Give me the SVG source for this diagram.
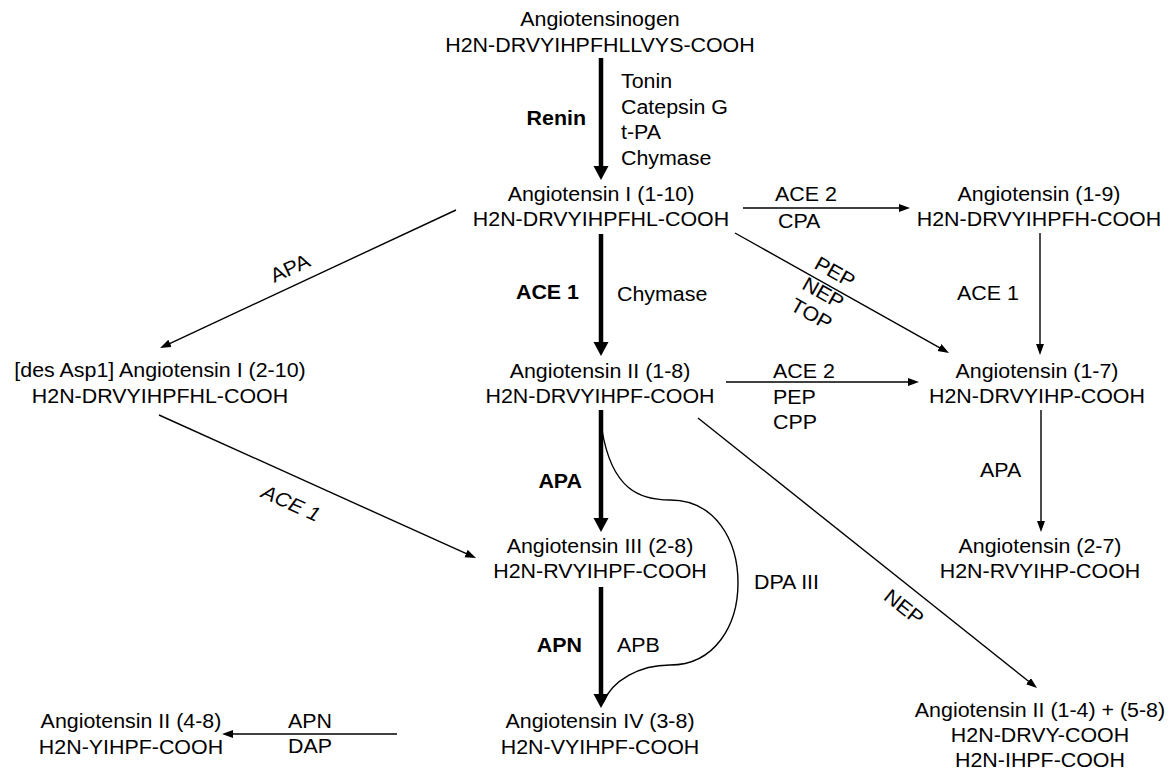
<svg xmlns="http://www.w3.org/2000/svg" width="1171" height="771" viewBox="0 0 1171 771">
<style>
.t{font-family:"Liberation Sans",Arial,Helvetica,sans-serif;font-size:20px;fill:#000;transform-box:fill-box;transform:scaleX(1.07)}
.m{text-anchor:middle;transform-origin:center}
.s{text-anchor:start;transform-origin:left center}
.e{text-anchor:end;transform-origin:right center}
.b{font-weight:bold}
.i{font-style:italic}
.thin{stroke:#000;stroke-width:1.4;fill:none;marker-end:url(#ah)}
.thick{stroke:#000;stroke-width:4.5;fill:none;marker-end:url(#ahb)}
.curve{stroke:#000;stroke-width:1.4;fill:none}
</style>
<defs>
<marker id="ah" markerUnits="userSpaceOnUse" markerWidth="12" markerHeight="9" refX="1" refY="4" orient="auto"><path d="M0,0 L11,4 L0,8 z" fill="#000"/></marker>
<marker id="ahb" markerUnits="userSpaceOnUse" markerWidth="16" markerHeight="16" refX="1" refY="7.5" orient="auto"><path d="M0,0 L14,7.5 L0,15 z" fill="#000"/></marker>
</defs>
<rect width="1171" height="771" fill="#fff"/>
<g id="connectors">
<line class="thick" x1="601" y1="58" x2="601" y2="167"/>
<line class="thick" x1="601" y1="234" x2="601" y2="343"/>
<line class="thick" x1="601" y1="410" x2="601" y2="519"/>
<line class="thick" x1="601" y1="587" x2="601" y2="695"/>
<line class="thin" x1="743" y1="208" x2="900" y2="208"/>
<line class="thin" x1="726" y1="382" x2="909" y2="382"/>
<line class="thin" x1="1040" y1="233" x2="1040" y2="345"/>
<line class="thin" x1="1041" y1="410" x2="1041" y2="522"/>
<line class="thin" x1="397" y1="734" x2="232" y2="734"/>
<line class="thin" x1="456" y1="210" x2="169.1" y2="343.8"/>
<line class="thin" x1="159" y1="415" x2="466.9" y2="553.9"/>
<line class="thin" x1="735" y1="233" x2="940.3" y2="348.1"/>
<line class="thin" x1="698" y1="418" x2="1029.2" y2="681.8"/>
<path class="curve" d="M602,430 C612,490 640,500 670,500 C715,500 738,540 738,583 C738,625 715,665 670,665 C640,665 612,680 603,703"/>
<g id="edge-labels">
<text class="t e b" x="586" y="125">Renin</text>
<text class="t s" x="621" y="88">Tonin</text>
<text class="t s" x="621" y="114">Catepsin G</text>
<text class="t s" x="621" y="139">t-PA</text>
<text class="t s" x="621" y="165">Chymase</text>
<text class="t e b" x="579" y="299">ACE 1</text>
<text class="t s" x="617" y="301">Chymase</text>
<text class="t e b" x="582" y="488">APA</text>
<text class="t e b" x="582" y="652">APN</text>
<text class="t s" x="617" y="652">APB</text>
<text class="t s" x="754" y="589">DPA III</text>
<text class="t s" x="775" y="201">ACE 2</text>
<text class="t s" x="778" y="228">CPA</text>
<text class="t s" x="773" y="378">ACE 2</text>
<text class="t s" x="773" y="404">PEP</text>
<text class="t s" x="773" y="429">CPP</text>
<text class="t s" x="957" y="300">ACE 1</text>
<text class="t s" x="980" y="477">APA</text>
<text class="t m" x="310" y="728">APN</text>
<text class="t m" x="310" y="753">DAP</text>
<g transform="translate(290,268) rotate(-25.1)"><text class="t m" x="0" y="7">APA</text></g>
<g transform="translate(291,503) rotate(24.3)"><text class="t m i" x="0" y="7">ACE 1</text></g>
<g transform="translate(835,272) rotate(29.3)"><text class="t m" x="0" y="7">PEP</text><text class="t m" x="0" y="31">NEP</text><text class="t m" x="0" y="55">TOP</text></g>
<g transform="translate(904,607) rotate(38.5)"><text class="t m" x="0" y="7">NEP</text></g>
</g>
</g>
<g id="angiotensinogen"><text class="t m" x="600" y="26">Angiotensinogen</text><text class="t m" x="600" y="52">H2N-DRVYIHPFHLLVYS-COOH</text></g>
<g id="ang-i"><text class="t m" x="601" y="201">Angiotensin I (1-10)</text><text class="t m" x="601" y="226">H2N-DRVYIHPFHL-COOH</text></g>
<g id="ang-ii"><text class="t m" x="600" y="378">Angiotensin II (1-8)</text><text class="t m" x="600" y="403">H2N-DRVYIHPF-COOH</text></g>
<g id="ang-iii"><text class="t m" x="600" y="553">Angiotensin III (2-8)</text><text class="t m" x="600" y="578">H2N-RVYIHPF-COOH</text></g>
<g id="ang-iv"><text class="t m" x="600" y="728">Angiotensin IV (3-8)</text><text class="t m" x="600" y="754">H2N-VYIHPF-COOH</text></g>
<g id="ang-ii-4-8"><text class="t m" x="131" y="728">Angiotensin II (4-8)</text><text class="t m" x="131" y="754">H2N-YIHPF-COOH</text></g>
<g id="des-asp1"><text class="t m" x="160" y="377">[des Asp1] Angiotensin I (2-10)</text><text class="t m" x="160" y="403">H2N-DRVYIHPFHL-COOH</text></g>
<g id="ang-1-9"><text class="t m" x="1039" y="201">Angiotensin (1-9)</text><text class="t m" x="1039" y="226">H2N-DRVYIHPFH-COOH</text></g>
<g id="ang-1-7"><text class="t m" x="1037" y="378">Angiotensin (1-7)</text><text class="t m" x="1037" y="403">H2N-DRVYIHP-COOH</text></g>
<g id="ang-2-7"><text class="t m" x="1040" y="553">Angiotensin (2-7)</text><text class="t m" x="1040" y="578">H2N-RVYIHP-COOH</text></g>
<g id="ang-ii-fragments"><text class="t m" x="1040" y="717">Angiotensin II (1-4) + (5-8)</text><text class="t m" x="1040" y="742">H2N-DRVY-COOH</text><text class="t m" x="1040" y="767">H2N-IHPF-COOH</text></g>
</svg>
